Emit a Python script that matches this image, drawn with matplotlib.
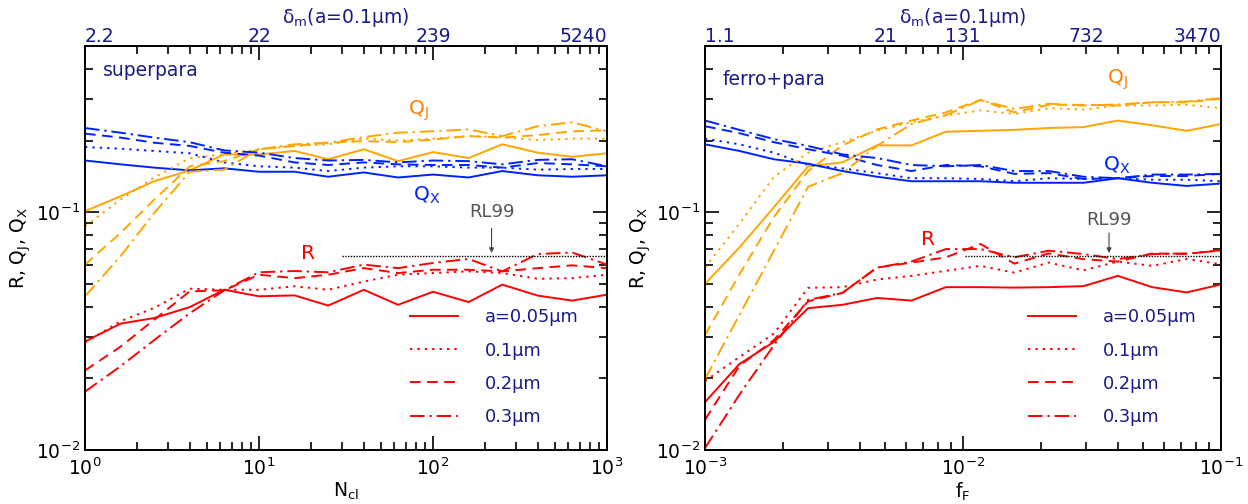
import matplotlib.pyplot as plt
import numpy as np
from matplotlib.lines import Line2D
from matplotlib.ticker import NullFormatter

# x grids
n_cl = [1, 1.6, 2.5, 4, 6.3, 10, 16, 25, 40, 63, 100, 160, 250, 400, 630, 1000]
f_F = [0.001, 0.00136, 0.00185, 0.00251, 0.00341, 0.00464, 0.00631, 0.00858,
       0.0117, 0.0158, 0.0215, 0.0293, 0.0398, 0.0541, 0.0736, 0.1]

sizes = ['a=0.05μm', '0.1μm', '0.2μm', '0.3μm']

# superpara (left), one list per grain size a = 0.05, 0.1, 0.2, 0.3 um
R_sp_005 = [0.0286, 0.034, 0.0359, 0.0399, 0.0472, 0.0443, 0.0447, 0.0405, 0.0472, 0.0408, 0.0463, 0.0419, 0.0496, 0.0446, 0.0425, 0.045]
R_sp_01 = [0.0283, 0.0348, 0.0396, 0.0477, 0.0472, 0.0472, 0.0488, 0.0472, 0.0511, 0.0546, 0.0555, 0.0564, 0.0555, 0.0525, 0.0528, 0.0546]
R_sp_02 = [0.0216, 0.0272, 0.0353, 0.0465, 0.0469, 0.0546, 0.0528, 0.0546, 0.0582, 0.0555, 0.0573, 0.0573, 0.0564, 0.0582, 0.0598, 0.0582]
R_sp_03 = [0.0176, 0.0225, 0.029, 0.0376, 0.0469, 0.0559, 0.0566, 0.0559, 0.0602, 0.0582, 0.0612, 0.0636, 0.0564, 0.0667, 0.0677, 0.0602]

QJ_sp_005 = [0.101, 0.1167, 0.135, 0.150, 0.175, 0.175, 0.181, 0.167, 0.184, 0.164, 0.179, 0.169, 0.193, 0.178, 0.171, 0.177]
QJ_sp_01 = [0.0873, 0.113, 0.140, 0.169, 0.175, 0.184, 0.19, 0.193, 0.204, 0.2, 0.204, 0.209, 0.207, 0.201, 0.204, 0.204]
QJ_sp_02 = [0.0602, 0.0818, 0.113, 0.156, 0.164, 0.184, 0.19, 0.196, 0.199, 0.197, 0.202, 0.209, 0.206, 0.211, 0.219, 0.221]
QJ_sp_03 = [0.0443, 0.0653, 0.0993, 0.148, 0.151, 0.184, 0.193, 0.196, 0.207, 0.216, 0.219, 0.223, 0.209, 0.23, 0.239, 0.219]

QX_sp_005 = [0.165, 0.159, 0.154, 0.150, 0.153, 0.148, 0.148, 0.141, 0.147, 0.14, 0.144, 0.14, 0.149, 0.143, 0.141, 0.143]
QX_sp_01 = [0.188, 0.185, 0.181, 0.177, 0.162, 0.156, 0.154, 0.149, 0.154, 0.156, 0.156, 0.154, 0.154, 0.151, 0.152, 0.152]
QX_sp_02 = [0.214, 0.206, 0.196, 0.19, 0.178, 0.173, 0.162, 0.158, 0.162, 0.159, 0.158, 0.158, 0.154, 0.161, 0.159, 0.156]
QX_sp_03 = [0.226, 0.216, 0.206, 0.197, 0.182, 0.178, 0.169, 0.165, 0.166, 0.162, 0.165, 0.164, 0.159, 0.166, 0.167, 0.156]

# ferro+para (right)
R_fp_005 = [0.0159, 0.023, 0.0285, 0.0395, 0.0408, 0.0436, 0.0425, 0.0484, 0.0484, 0.0482, 0.0484, 0.0489, 0.054, 0.0484, 0.046, 0.0497]
R_fp_01 = [0.0195, 0.0246, 0.0309, 0.0481, 0.0484, 0.0521, 0.054, 0.0567, 0.0595, 0.0557, 0.0614, 0.057, 0.062, 0.0595, 0.0636, 0.0604]
R_fp_02 = [0.0134, 0.0226, 0.029, 0.0422, 0.0458, 0.0585, 0.0614, 0.0646, 0.0735, 0.0608, 0.0671, 0.0635, 0.062, 0.0671, 0.0667, 0.0693]
R_fp_03 = [0.0102, 0.0171, 0.0276, 0.0428, 0.0458, 0.0585, 0.062, 0.07, 0.07, 0.0646, 0.0689, 0.0667, 0.0635, 0.0667, 0.0671, 0.0689]

QJ_fp_005 = [0.05, 0.0711, 0.105, 0.156, 0.162, 0.191, 0.191, 0.218, 0.22, 0.222, 0.226, 0.228, 0.243, 0.232, 0.22, 0.235]
QJ_fp_01 = [0.0585, 0.0895, 0.141, 0.178, 0.197, 0.22, 0.239, 0.255, 0.268, 0.259, 0.274, 0.27, 0.281, 0.281, 0.283, 0.274]
QJ_fp_02 = [0.0304, 0.0548, 0.0955, 0.149, 0.191, 0.223, 0.243, 0.263, 0.297, 0.263, 0.283, 0.283, 0.281, 0.29, 0.29, 0.3]
QJ_fp_03 = [0.0199, 0.037, 0.0689, 0.128, 0.146, 0.19, 0.235, 0.256, 0.296, 0.272, 0.286, 0.281, 0.284, 0.29, 0.292, 0.302]

QX_fp_005 = [0.193, 0.181, 0.167, 0.16, 0.149, 0.141, 0.135, 0.135, 0.135, 0.133, 0.133, 0.133, 0.139, 0.133, 0.129, 0.132]
QX_fp_01 = [0.204, 0.193, 0.178, 0.158, 0.153, 0.146, 0.139, 0.139, 0.138, 0.135, 0.139, 0.138, 0.139, 0.137, 0.137, 0.135]
QX_fp_02 = [0.23, 0.215, 0.197, 0.184, 0.173, 0.158, 0.149, 0.158, 0.156, 0.145, 0.146, 0.138, 0.139, 0.142, 0.142, 0.145]
QX_fp_03 = [0.243, 0.222, 0.203, 0.19, 0.175, 0.169, 0.158, 0.156, 0.158, 0.149, 0.149, 0.141, 0.139, 0.144, 0.144, 0.145]

rl99 = 0.0656

# top axis (delta_m for a=0.1um)
top_sp_pos = [1, 10, 100, 1000]
top_sp_lab = ['2.2', '22', '239', '5240']
top_fp_pos = [0.001, 0.005, 0.01, 0.03, 0.1]
top_fp_lab = ['1.1', '21', '131', '732', '3470']

navy = '#1a1a8a'
c_r = '#ff0000'
c_j = '#ffa500'
c_x = '#0022ff'
styles = ['-', (0, (1.2, 2.6)), (0, (5.5, 3.3)), (0, (7.5, 2.5, 1.2, 2.5))]
lw = 1.4

fig = plt.figure(figsize=(12.48, 5.04), dpi=100)
ax1 = fig.add_axes([0.0681, 0.1071, 0.4183, 0.8016])
ax2 = fig.add_axes([0.5649, 0.1071, 0.4135, 0.8016])


def panel(ax, x, R, QJ, QX, xlim, xlab, top_pos, top_lab, name, name_y, rl_x0, rl_arrow,
          lab_j, lab_x, lab_r, leg_x):
    for i in range(4):
        ax.plot(x, QJ[i], color=c_j, ls=styles[i], lw=lw)
        ax.plot(x, QX[i], color=c_x, ls=styles[i], lw=lw)
        ax.plot(x, R[i], color=c_r, ls=styles[i], lw=lw)
    ax.set_xscale('log')
    ax.set_yscale('log')
    ax.set_xlim(xlim)
    ax.set_ylim(0.01, 0.5)
    ax.yaxis.set_minor_formatter(NullFormatter())
    ax.xaxis.set_minor_formatter(NullFormatter())
    ax.tick_params(which='both', direction='in', top=True, right=True, labelsize=13.5, width=1.2)
    ax.tick_params(which='major', length=10)
    ax.tick_params(which='minor', length=5.5)
    ax.tick_params(axis='x', pad=5.5)
    for s in ax.spines.values():
        s.set_linewidth(1.4)
    ax.set_xlabel(xlab, fontsize=13.5, labelpad=1)
    ax.set_ylabel(r'R, Q$_\mathrm{J}$, Q$_\mathrm{X}$', fontsize=13.5, labelpad=2)

    # top axis labels
    tr = ax.get_xaxis_transform()
    for j, (p, l) in enumerate(zip(top_pos, top_lab)):
        ha = 'center'
        if j == 0:
            ha = 'left'
        elif j == len(top_pos) - 1:
            ha = 'right'
        ax.text(p, 1.011, l, transform=tr, ha=ha, va='baseline', color=navy, fontsize=13.5)
    ax.text(0.5, 1.043, r'δ$_\mathrm{m}$(a=0.1μm)', transform=ax.transAxes, ha='center',
            va='bottom', color=navy, fontsize=13.5)

    ax.text(0.035, name_y, name, transform=ax.transAxes, color=navy, fontsize=13.5, va='center')

    # RL99 reference
    ax.plot([rl_x0, xlim[1]], [rl99, rl99], color='black', ls=(0, (1, 1)), lw=1.0)
    ax.annotate('', xy=(rl_arrow[0], rl99), xytext=(rl_arrow[0], rl_arrow[1]),
                arrowprops=dict(arrowstyle='-|>', color='#444444', lw=0.8, mutation_scale=7))
    ax.text(rl_arrow[0], rl_arrow[2], 'RL99', color='#555555', fontsize=13, ha='center', va='center')

    ax.text(lab_j[0], lab_j[1], r'Q$_\mathrm{J}$', color='#ff8000', fontsize=14.5, ha='center', va='center')
    ax.text(lab_x[0], lab_x[1], r'Q$_\mathrm{X}$', color=c_x, fontsize=14.5, ha='center', va='center')
    ax.text(lab_r[0], lab_r[1], 'R', color=c_r, fontsize=14.5, ha='center', va='center')

    handles = [Line2D([0], [0], color=c_r, ls=styles[i], lw=lw) for i in range(4)]
    ax.legend(handles, sizes, loc='lower right', bbox_to_anchor=(leg_x, 0.06), frameon=False,
              fontsize=12.8, labelcolor=navy, handlelength=2.7, handletextpad=1.5,
              labelspacing=0.85, borderpad=0, borderaxespad=0)


panel(ax1, n_cl, [R_sp_005, R_sp_01, R_sp_02, R_sp_03],
      [QJ_sp_005, QJ_sp_01, QJ_sp_02, QJ_sp_03],
      [QX_sp_005, QX_sp_01, QX_sp_02, QX_sp_03],
      (1, 1000), r'N$_\mathrm{cl}$', top_sp_pos, top_sp_lab, 'superpara', 0.94,
      30, (217, 0.088, 0.1), (82, 0.268), (92, 0.118), (19, 0.067), 0.945)

panel(ax2, f_F, [R_fp_005, R_fp_01, R_fp_02, R_fp_03],
      [QJ_fp_005, QJ_fp_01, QJ_fp_02, QJ_fp_03],
      [QX_fp_005, QX_fp_01, QX_fp_02, QX_fp_03],
      (0.001, 0.1), r'f$_\mathrm{F}$', top_fp_pos, top_fp_lab, 'ferro+para', 0.918,
      0.0102, (0.0368, 0.084, 0.093), (0.0395, 0.36), (0.0395, 0.158), (0.0073, 0.077), 0.952)

fig.savefig('out.png', dpi=100)
